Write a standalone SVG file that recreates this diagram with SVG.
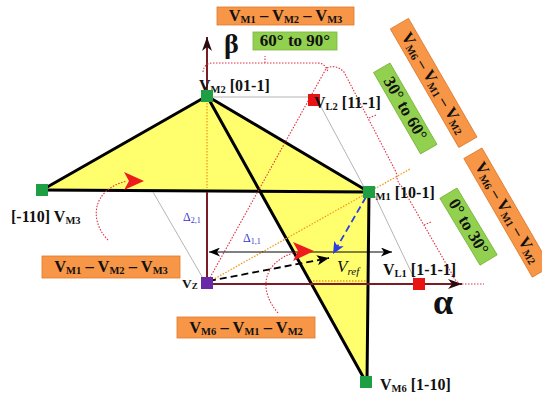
<svg xmlns="http://www.w3.org/2000/svg" width="542" height="396" viewBox="0 0 542 396">
<defs>
<style>
.t{font-family:"Liberation Serif","Times New Roman",serif;font-weight:bold;fill:#111}
.lbl{font-size:16px}
.sub{font-size:10.5px}
.bx{font-size:16.5px}
.bg{font-size:17px}
.bsub{font-size:10.5px}
.box-o{fill:#f79646;stroke:#e0782c;stroke-width:0.8}
.box-g{fill:#92d050;stroke:#7ab43c;stroke-width:0.8}
.gray{stroke:#b5b5b5;stroke-width:1;fill:none}
.edge{stroke:#000;stroke-width:3;fill:none;stroke-linecap:round;stroke-linejoin:round}
.axis{stroke:#7a1c24;stroke-width:2;fill:none}
.dotr{stroke:#e03040;stroke-width:1.1;stroke-dasharray:1.5 1.5;fill:none}
.doto{stroke:#f29a18;stroke-width:1.3;stroke-dasharray:1.5 1.5;fill:none}
.gsq{fill:#1f9f44}
.rsq{fill:#e81414}
.psq{fill:#6a2aa8}
.delta{font-family:"Liberation Serif","Times New Roman",serif;font-size:12px;fill:#3535cc}
</style>
<marker id="ahAx" markerUnits="userSpaceOnUse" markerWidth="14" markerHeight="10" refX="14" refY="5" orient="auto"><path d="M0,0 L14,5 L0,10 L4,5 z" fill="#2a0c10"/></marker>
<marker id="ahB" markerUnits="userSpaceOnUse" markerWidth="11" markerHeight="9" refX="11" refY="4.5" orient="auto-start-reverse"><path d="M0,0 L11,4.5 L0,9 L3,4.5 z" fill="#000"/></marker>
<marker id="ahK" markerUnits="userSpaceOnUse" markerWidth="12" markerHeight="10" refX="12" refY="5" orient="auto"><path d="M0,0 L12,5 L0,10 L3,5 z" fill="#000"/></marker>
<marker id="ahBl" markerUnits="userSpaceOnUse" markerWidth="12" markerHeight="11" refX="12" refY="5.5" orient="auto"><path d="M0,0 L12,5.5 L0,11 L3,5.5 z" fill="#2b3ee0"/></marker>
</defs>
<rect width="542" height="396" fill="#fff"/>

<g id="sector">
<polygon points="42,190 207,96 369,192 367,382 260,191" fill="#ffff6e"/>
<polyline class="edge" points="42,190 207,96 369,192"/>
<line class="edge" x1="42" y1="190" x2="369" y2="192"/>
<line class="edge" x1="207" y1="96" x2="366" y2="382"/>
<line class="edge" x1="369" y1="192" x2="367" y2="382"/>
</g>

<g id="connectors">
<line class="gray" x1="213" y1="97" x2="308" y2="97"/>
<line class="gray" x1="320" y1="105" x2="364" y2="187"/>
<line class="gray" x1="375" y1="196" x2="414" y2="278"/>
<line class="gray" x1="153" y1="192" x2="204" y2="280"/>
<line class="axis" x1="207" y1="96" x2="207" y2="37" marker-end="url(#ahAx)"/>
<line class="axis" x1="207" y1="192" x2="207" y2="283"/>
<line class="axis" x1="207" y1="284" x2="462" y2="284" marker-end="url(#ahAx)"/>
<line class="dotr" x1="462" y1="284" x2="484" y2="284"/>
<line class="doto" x1="207" y1="100" x2="207" y2="188"/>
<line class="doto" x1="313" y1="281" x2="366" y2="281"/>
<line class="doto" x1="207" y1="283" x2="410" y2="169"/>
<line class="dotr" x1="207" y1="283" x2="327" y2="67"/>
<path class="dotr" d="M203,72 Q204,63 213,63 L318,63 Q325,63 328,72 M265,63 L265,56"/>
<path class="dotr" d="M327,68 Q336,64 344,72 L395,170 Q397,174 397,178 M369,118 L376,115"/>
<path class="dotr" d="M397,178 Q398,183 402,187 L452,274 Q455,281 460,284 M424,225 L431,222"/>
<line x1="209" y1="252" x2="392" y2="252" stroke="#000" stroke-width="1" marker-start="url(#ahB)" marker-end="url(#ahB)"/>
<line x1="209" y1="281" x2="329" y2="258" stroke="#000" stroke-width="1.8" stroke-dasharray="7 4" marker-end="url(#ahK)"/>
<line x1="366" y1="197" x2="333" y2="254" stroke="#2b3ee0" stroke-width="1.8" stroke-dasharray="7 4" marker-end="url(#ahBl)"/>
<path class="dotr" d="M108,240 C90,222 90,190 127,181"/>
<path d="M144,181 L124,172 L129,181 L124,190 z" fill="#ee1c1c"/>
<path class="dotr" d="M278,313 C258,290 262,262 296,252"/>
<path d="M314,251 L293,242 L298,251 L293,261 z" fill="#ee1c1c"/>
</g>

<g id="node-vm3">
<rect class="gsq" x="36" y="184" width="12" height="12"/>
<text class="t lbl" x="11" y="222">[-110] V<tspan class="sub" dy="2">M3</tspan></text>
</g>
<g id="node-vm2">
<text class="t lbl" x="199" y="91">V<tspan class="sub" dy="2">M2</tspan><tspan dy="-2"> [01-1]</tspan></text>
<rect class="gsq" x="201" y="90" width="12" height="12"/>
</g>
<g id="node-vl2">
<rect class="rsq" x="308" y="94" width="12" height="12"/>
<text class="t lbl" x="314" y="108">V<tspan class="sub" dy="2">L2</tspan><tspan dy="-2"> [11-1]</tspan></text>
</g>
<g id="node-vm1">
<text class="t lbl" x="364" y="198">V<tspan class="sub" dy="2">M1</tspan><tspan dy="-2"> [10-1]</tspan></text>
<rect class="gsq" x="363" y="186" width="12" height="12"/>
</g>
<g id="node-vz">
<rect class="psq" x="201" y="277" width="12" height="12"/>
<text class="t" font-size="13.5" x="182" y="288">V<tspan font-size="9" dy="1">Z</tspan></text>
</g>
<g id="node-vl1">
<rect class="rsq" x="413" y="278" width="12" height="12"/>
<text class="t lbl" x="383" y="275">V<tspan class="sub" dy="2">L1</tspan><tspan dy="-2"> [1-1-1]</tspan></text>
</g>
<g id="node-vm6">
<rect class="gsq" x="360" y="376" width="12" height="12"/>
<text class="t lbl" x="380" y="390">V<tspan class="sub" dy="2">M6</tspan><tspan dy="-2"> [1-10]</tspan></text>
</g>
<g id="node-vref">
<text x="337" y="272" font-family="Liberation Serif, Times New Roman, serif" font-style="italic" font-size="17" fill="#111">V<tspan font-size="11" dy="3">ref</tspan></text>
</g>
<g id="axis-labels">
<text class="t" font-size="28" x="224" y="53">β</text>
<text class="t" font-size="36" x="433" y="314">α</text>
<text class="delta" x="183" y="221">Δ<tspan font-size="8" dy="2">2,1</tspan></text>
<text class="delta" x="243" y="242">Δ<tspan font-size="8" dy="2">1,1</tspan></text>
</g>

<g id="box-top">
<rect class="box-o" x="217" y="7" width="137" height="18"/>
<text class="t bx" x="285.5" y="21" text-anchor="middle">V<tspan class="bsub" dy="2">M1</tspan><tspan dy="-2"> – V</tspan><tspan class="bsub" dy="2">M2</tspan><tspan dy="-2"> – V</tspan><tspan class="bsub" dy="2">M3</tspan></text>
</g>
<g id="box-60-90">
<rect class="box-g" x="253" y="32" width="84" height="18"/>
<text class="t bg" x="295" y="46" text-anchor="middle">60° to 90°</text>
</g>
<g id="box-left">
<rect class="box-o" x="42" y="256" width="138" height="22"/>
<text class="t bx" x="111" y="272" text-anchor="middle">V<tspan class="bsub" dy="2">M1</tspan><tspan dy="-2"> – V</tspan><tspan class="bsub" dy="2">M2</tspan><tspan dy="-2"> – V</tspan><tspan class="bsub" dy="2">M3</tspan></text>
</g>
<g id="box-bottom">
<rect class="box-o" x="177" y="317" width="138" height="21"/>
<text class="t bx" x="246" y="333" text-anchor="middle">V<tspan class="bsub" dy="2">M6</tspan><tspan dy="-2"> – V</tspan><tspan class="bsub" dy="2">M1</tspan><tspan dy="-2"> – V</tspan><tspan class="bsub" dy="2">M2</tspan></text>
</g>
<g id="box-30-60" transform="translate(390,63) rotate(60)">
<rect class="box-g" x="0" y="0" width="94" height="19"/>
<text class="t bg" x="47" y="15" text-anchor="middle">30° to 60°</text>
</g>
<g id="box-0-30" transform="translate(457,188) rotate(59)">
<rect class="box-g" x="0" y="0" width="78" height="20"/>
<text class="t bg" x="39" y="15.5" text-anchor="middle">0° to 30°</text>
</g>
<g id="box-upper-right" transform="translate(408.5,18.4) rotate(60)">
<rect class="box-o" x="0" y="0" width="137" height="21"/>
<text class="t bx" x="68.5" y="15.5" text-anchor="middle">V<tspan class="bsub" dy="2">M6</tspan><tspan dy="-2"> – V</tspan><tspan class="bsub" dy="2">M1</tspan><tspan dy="-2"> – V</tspan><tspan class="bsub" dy="2">M2</tspan></text>
</g>
<g id="box-lower-right" transform="translate(482,148) rotate(60)">
<rect class="box-o" x="0" y="0" width="137" height="21"/>
<text class="t bx" x="68.5" y="15.5" text-anchor="middle">V<tspan class="bsub" dy="2">M6</tspan><tspan dy="-2"> – V</tspan><tspan class="bsub" dy="2">M1</tspan><tspan dy="-2"> – V</tspan><tspan class="bsub" dy="2">M2</tspan></text>
</g>
</svg>
